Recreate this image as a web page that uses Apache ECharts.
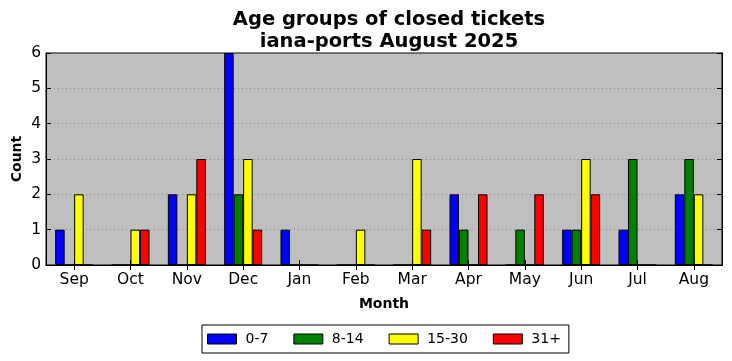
<!DOCTYPE html>
<html><head><meta charset="utf-8">
<script src="https://cdn.jsdelivr.net/npm/echarts@6/dist/echarts.min.js"></script>
<style>html,body{margin:0;padding:0;background:#fff}#c{width:732px;height:361px}</style>
</head><body><div id="c"></div>
<script>
const months = ['Sep','Oct','Nov','Dec','Jan','Feb','Mar','Apr','May','Jun','Jul','Aug'];
const seriesNames = ['0-7','8-14','15-30','31+'];
const v0_7   = [1,0,2,6,1,0,0,2,0,1,1,2];
const v8_14  = [0,0,0,2,0,0,0,1,1,1,3,3];
const v15_30 = [2,1,2,3,0,1,3,0,0,3,0,2];
const v31p   = [0,1,3,1,0,0,1,2,2,2,0,0];
const yTicks = [0,1,2,3,4,5,6];
const colors = ['#0000ff','#008000','#ffff00','#ff0000'];
const allVals = [v0_7, v8_14, v15_30, v31p];
const font = 'DejaVu Sans';
const chart = echarts.init(document.getElementById('c'));
chart.setOption({
  animation:false,
  backgroundColor:'#ffffff',
  title:{text:'Age groups of closed tickets\niana-ports August 2025',left:384,textAlign:'center',top:4,
    textStyle:{fontFamily:font,fontSize:19.5,fontWeight:'bold',color:'#000',lineHeight:22}},
  grid:{left:46,right:10,top:53,bottom:96,outerBoundsMode:'none',containLabel:false,show:true,backgroundColor:'#bfbfbf',borderColor:'#000',borderWidth:1},
  legend:{data:seriesNames,left:202,top:325,orient:'horizontal',icon:'rect',itemWidth:29,itemHeight:10,itemGap:25,
    borderColor:'#000',borderWidth:1,padding:[7,8,7,5],
    textStyle:{fontFamily:font,fontSize:14,color:'#000',padding:[0,0,0,4]},
    itemStyle:{borderColor:'#000',borderWidth:1}},
  xAxis:[{type:'category',data:months,position:'bottom',
    name:'Month',nameLocation:'middle',nameGap:32,nameMoveOverlap:false,nameTextStyle:{fontFamily:font,fontSize:14,fontWeight:'bold',color:'#000'},
    axisLine:{show:true,lineStyle:{color:'#000'}},
    axisTick:{show:true,inside:true,alignWithLabel:true,length:5,lineStyle:{color:'#000'}},
    axisLabel:{fontFamily:font,fontSize:15.5,color:'#000',margin:7},
    splitLine:{show:false}},
   {type:'category',data:months,position:'top',
    axisLine:{show:true,lineStyle:{color:'#000'}},
    axisTick:{show:true,inside:true,alignWithLabel:true,length:5,lineStyle:{color:'#000'}},
    axisLabel:{show:false},splitLine:{show:false}}],
  yAxis:[{type:'value',min:0,max:6,interval:1,position:'left',
    name:'Count',nameLocation:'middle',nameGap:22,nameMoveOverlap:false,nameTextStyle:{fontFamily:font,fontSize:14,fontWeight:'bold',color:'#000'},
    axisLine:{show:true,lineStyle:{color:'#000'}},
    axisTick:{show:true,inside:true,length:5,lineStyle:{color:'#000'}},
    axisLabel:{fontFamily:font,fontSize:15.5,color:'#000',margin:5,formatter:v=>yTicks.includes(v)?String(v):''},
    splitLine:{show:true,lineStyle:{color:'#808080',type:[1,3],width:1}}},
   {type:'value',min:0,max:6,interval:1,position:'right',
    axisLine:{show:true,lineStyle:{color:'#000'}},
    axisTick:{show:true,inside:true,length:5,lineStyle:{color:'#000'}},
    axisLabel:{show:false},splitLine:{show:false}}],
  series: seriesNames.map((n,i)=>({name:n,type:'bar',data:allVals[i],xAxisIndex:0,yAxisIndex:0,
    barGap:'0%',barWidth:9.5,
    itemStyle:{color:colors[i],borderColor:'#000',borderWidth:1}}))
});
</script></body></html>
